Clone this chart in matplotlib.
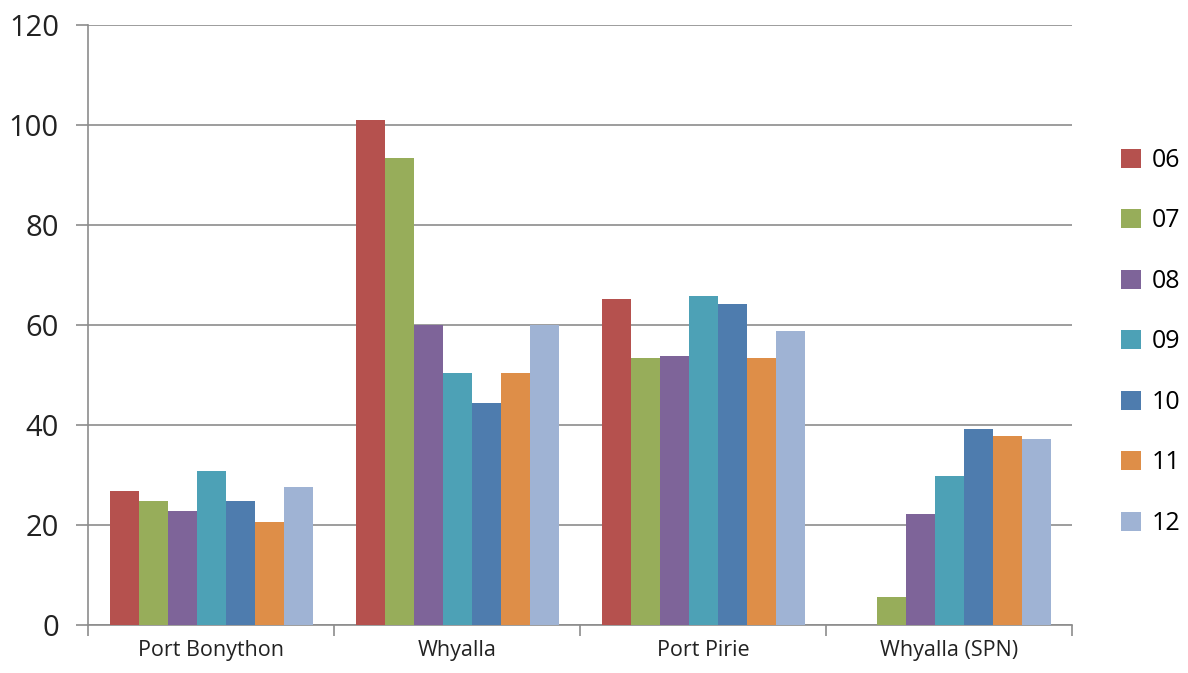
import matplotlib.pyplot as plt
import numpy as np

plt.rcParams['font.family'] = ['Open Sans', 'DejaVu Sans']

# sites on the x axis, one series per year
sites = ['Port Bonython', 'Whyalla', 'Port Pirie', 'Whyalla (SPN)']
years = ['06', '07', '08', '09', '10', '11', '12']

v06 = [26.8, 101.0, 65.2, 0]
v07 = [24.8, 93.3, 53.4, 5.7]
v08 = [22.9, 60.0, 53.7, 22.2]
v09 = [30.9, 50.3, 65.8, 29.9]
v10 = [24.8, 44.3, 64.2, 39.1]
v11 = [20.7, 50.3, 53.4, 37.8]
v12 = [27.7, 60.0, 58.8, 37.2]
series = [v06, v07, v08, v09, v10, v11, v12]

colors = ['#B5514E', '#97AD5A', '#7E6499', '#4DA1B6', '#4E7CAE', '#DE8E48', '#9FB3D4']

fig = plt.figure(figsize=(11.88, 6.73), dpi=100)
ax = fig.add_axes([0.0741, 0.0713, 0.8283, 0.8916])

x = np.arange(len(sites))
n = len(series)
w = 0.825 / n
for i, vals in enumerate(series):
    ax.bar(x - 0.825 / 2 + w * (i + 0.5), vals, width=w, color=colors[i],
           label=years[i], zorder=3)

ax.set_xlim(-0.5, len(sites) - 0.5)
ax.set_ylim(0, 120)
ax.set_yticks(range(0, 121, 20))
ax.yaxis.grid(True, color='#8c8c8c', linewidth=1.2, zorder=0)

# category boundary ticks on the x axis
ax.set_xticks(np.arange(-0.5, len(sites), 1.0))
ax.set_xticklabels([])
ax.set_xticks(x, minor=True)
ax.set_xticklabels(sites, minor=True, fontsize=15.5, color='#222222')
ax.tick_params(axis='x', which='minor', length=0, pad=11)
ax.tick_params(axis='x', which='major', length=8, color='#8c8c8c', width=1.2)
ax.tick_params(axis='y', length=9, color='#8c8c8c', width=1.2,
               labelsize=21, labelcolor='#222222', pad=12)

for s in ['top', 'right']:
    ax.spines[s].set_visible(False)
for s in ['left', 'bottom']:
    ax.spines[s].set_color('#8c8c8c')
    ax.spines[s].set_linewidth(1.2)

fig.legend(loc='center left', bbox_to_anchor=(0.944, 0.492), frameon=False,
           fontsize=18, handlelength=0.8, handleheight=0.8, handletextpad=0.4,
           labelspacing=1.42, borderpad=0, borderaxespad=0)

fig.savefig('out.png', dpi=100)
